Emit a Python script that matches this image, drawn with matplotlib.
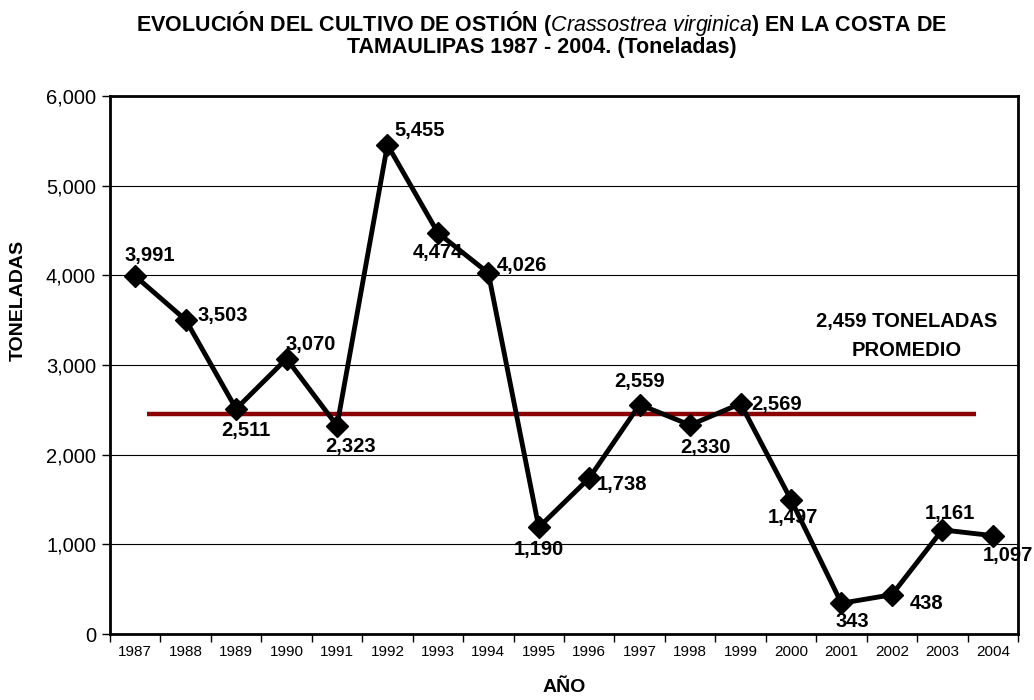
import numpy as np
import matplotlib.pyplot as plt

plt.rcParams['font.family'] = ['Liberation Sans', 'DejaVu Sans']
plt.rcParams['mathtext.fontset'] = 'custom'
plt.rcParams['mathtext.it'] = 'Liberation Sans:italic'
plt.rcParams['mathtext.rm'] = 'Liberation Sans:bold'

years = ['1987', '1988', '1989', '1990', '1991', '1992', '1993', '1994', '1995',
         '1996', '1997', '1998', '1999', '2000', '2001', '2002', '2003', '2004']
toneladas = [3991, 3503, 2511, 3070, 2323, 5455, 4474, 4026, 1190,
             1738, 2559, 2330, 2569, 1497, 343, 438, 1161, 1097]
promedio = 2459

# label offsets in pixels (dx, dy), screen up positive
offsets = [(15, 21), (37, 4), (10, -22), (24, 14), (14, -21), (32, 14), (0, -20), (34, 8),
           (0, -22), (33, -6), (0, 23), (15, -22), (36, -1), (2, -18), (11, -18), (35, -9),
           (8, 16), (15, -20)]

fig = plt.figure(figsize=(10.34, 7), dpi=100)
ax = fig.add_axes([110 / 1034, 1 - 634 / 700, 908 / 1034, 538 / 700])

x = np.arange(len(years))
ax.plot(x, toneladas, color='black', lw=3.5, marker='D', markersize=11.5, zorder=3)
ax.hlines(promedio, 0.24, 16.67, color='#8B0000', lw=3.2, zorder=2)

for xi, v, (dx, dy) in zip(x, toneladas, offsets):
    ax.annotate(f'{v:,}', (xi, v), xytext=(dx, dy), textcoords='offset pixels',
                ha='center', va='center', fontsize=14.5, fontweight='bold', zorder=4)

fig.text(907 / 1034, 1 - 336 / 700, f'{promedio:,} TONELADAS\nPROMEDIO', ha='center',
         va='center', fontsize=14.5, fontweight='bold', linespacing=1.65)

ax.set_xlim(-0.5, len(years) - 0.5)
ax.set_ylim(0, 6000)
ax.set_yticks(range(0, 6001, 1000))
ax.set_yticklabels([f'{t:,}' for t in range(0, 6001, 1000)], fontsize=14.5)
ax.yaxis.grid(True, color='black', lw=0.8)
ax.set_axisbelow(True)
ax.tick_params(axis='y', direction='out', length=6, width=1, pad=4)

ax.set_xticks(x)
ax.set_xticklabels(years, fontsize=11, family=['Liberation Sans Narrow', 'Liberation Sans'])
ax.set_xticks(np.arange(-0.5, len(years)), minor=True)
ax.tick_params(axis='x', which='major', length=0, pad=8)
ax.tick_params(axis='x', which='minor', direction='out', length=6, width=1)

for s in ax.spines.values():
    s.set_linewidth(2)

fig.text(18 / 1034, 1 - 300 / 700, 'TONELADAS', rotation=90, ha='center', va='center',
         fontsize=14, fontweight='bold')
ax.set_xlabel('AÑO', fontsize=14, fontweight='bold', labelpad=14)

title = r'EVOLUCIÓN DEL CULTIVO DE OSTIÓN ($\mathit{Crassostrea\ virginica}$) EN LA COSTA DE'
fig.text(542 / 1034, 1 - 24 / 700, title, fontsize=15.5, fontweight='bold', ha='center', va='center')
fig.text(542 / 1034, 1 - 48 / 700, 'TAMAULIPAS 1987 - 2004. (Toneladas)', fontsize=15.5,
         fontweight='bold', ha='center', va='center')

fig.savefig('out.png', dpi=100)
